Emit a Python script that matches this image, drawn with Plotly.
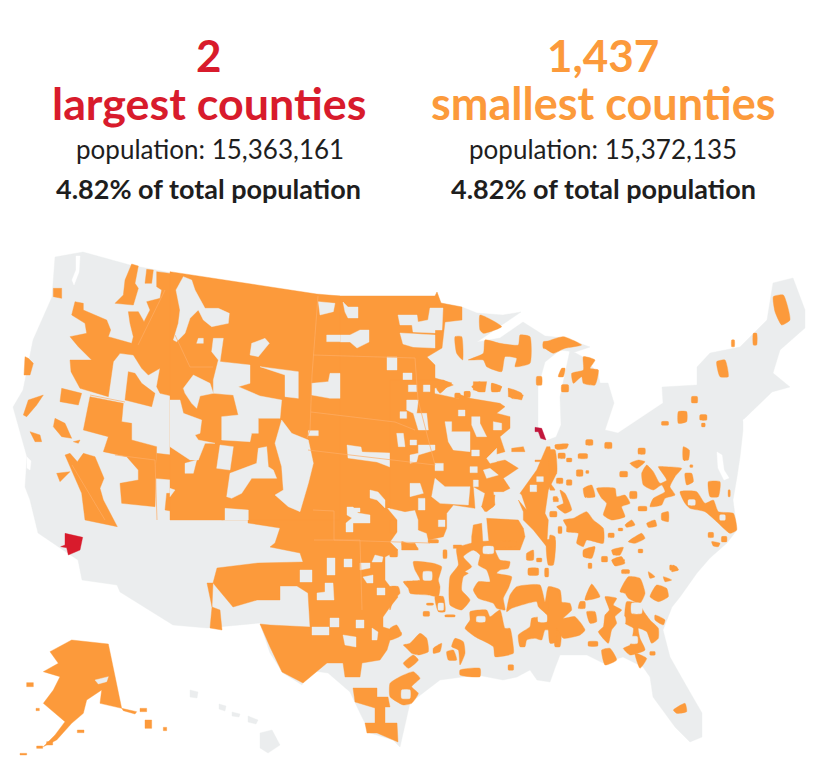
import plotly.graph_objects as go

GREY = "#EBEDEE"
ORANGE = "#FC9A3B"
RED = "#D81B2C"
CRIMSON = "#C2163C"
STATE_LINE = "#FDAE66"

# headline text
COUNT_LEFT, COUNT_RIGHT = "2", "1,437"
HEAD_LEFT, HEAD_RIGHT = "largest counties", "smallest counties"
POP_LEFT, POP_RIGHT = "population: 15,363,161", "population: 15,372,135"
SHARE_LEFT, SHARE_RIGHT = "4.82% of total population", "4.82% of total population"

# outlines, in picture pixels
LOWER48 = [(55,257),(80,253),(83,252),(130,265),(193,277),(280,290),(320,296),(435,296),(437,292),(441,303),
    (462,307),(477,313),(503,315),(521,312),(477,342),(500,338),(523,322),(545,336),(565,338),(590,347),
    (575,352),(560,350),(545,362),(538,387),(538,427),(545,441),(556,437),(561,425),(560,397),(570,350),
    (583,357),(598,373),(600,383),(608,383),(614,403),(605,430),(618,433),(663,403),(662,387),(697,385),
    (697,367),(710,353),(740,347),(767,320),(773,283),(793,278),(805,310),(805,328),(780,350),(773,373),
    (790,387),(772,392),(743,420),(743,430),(740,457),(737,477),(733,500),(737,530),(727,543),(710,558),
    (697,573),(680,597),(672,607),(663,630),(670,657),(687,687),(702,713),(702,737),(690,742),(675,727),
    (653,697),(650,677),(643,667),(623,657),(603,663),(587,655),(560,655),(555,668),(550,682),(537,680),
    (530,670),(517,677),(503,680),(477,675),(440,680),(410,703),(400,747),(393,740),(370,733),(360,713),
    (350,692),(328,673),(307,670),(302,685),(283,673),(270,653),(260,623),(207,628),(173,625),(120,592),
    (117,585),(82,580),(78,560),(63,550),(38,533),(30,500),(25,487),(27,457),(13,407),(23,390),(33,340),
    (52,297)]
HAWAII = [[(260,733),(272,730),(280,745),(268,753),(260,748)], [(190,690),(198,692),(197,698),(190,697)],
    [(219,704),(226,706),(225,711),(219,709)], [(232,712),(240,714),(239,717),(232,716)], [(248,716),(258,720),(256,724),(248,722)]]
# bays and sounds cut out of the land
WATER = [[(76,256),(80,256),(79,272),(74,285),(72,280),(76,270)], [(27,457),(31,461),(30,470),(27,468)],
    [(717,452),(722,455),(724,470),(729,478),(724,480),(718,468)], [(743,420),(770,409),(771,411),(745,424)]]

# main block of the plains, Montana round to Texas
PLAINS = [(193,277),(280,290),(320,296),(435,296),(437,292),(441,303),(462,307),(462,320),(445,322),(442,348),
    (427,357),(435,365),(435,378),(452,383),(440,392),(392,392),(392,508),(387,508),
    (397,520),(397,532),(390,542),(398,550),(385,557),(385,580),(398,597),(390,607),(383,617),(383,627),
    (402,633),(390,640),(387,650),(380,660),(362,663),(360,677),(345,677),(343,663),(327,663),(303,683),
    (282,672),(270,647),(260,624),(270,625),(310,627),(308,593),(297,586),(280,586),(280,600),(257,600),
    (233,607),(213,583),(217,568),(258,563),(303,562),(300,553),(270,547),(275,543),(280,528),(248,523),
    (248,510),(270,505),(287,512),(302,512),(303,502),(308,483),(313,463),(307,438),(290,430),(287,420),
    (282,418),(282,398),(270,395),(253,393),(240,387),(248,380),(250,367),(218,363),(223,350),(223,338),
    (217,340),(213,367),(188,367),(183,347),(187,323),(197,307),(203,303)]
SOUTH_TEXAS = [(353,688),(377,688),(377,697),(388,697),(390,707),(385,707),(385,723),(397,723),(398,742),(377,733),
    (367,733),(365,723),(375,723),(375,708),(355,702)]
NM_STRIP = [(207,583),(213,583),(212,607),(220,610),(222,630),(210,628),(212,607)]

# grey gaps punched back out of PLAINS, a pair of points is a box
PLAINS_GAPS = [[(343,302),(348,307),(358,307),(358,318),(348,318),(345,312)],
    [(340,335),(350,335),(360,330),(369,330),(369,342),(357,348),(350,342),(340,342)],
    [(398,315),(417,315),(418,322),(428,320),(430,308),(443,308),(442,330),(435,330),(435,333),(413,332),(412,325),(400,325)],
    [(400,333),(435,335),(435,348),(413,347),(403,344)], [(387,357),(397,370)], [(403,373),(412,380)],
    [(347,445),(361,447),(362,452),(390,453),(390,467),(377,462),(348,458)],
    [(370,490),(378,492),(385,500),(385,508),(377,500),(370,498)], [(348,508),(360,512)],
    [(347,507),(353,507),(358,513),(370,515),(370,523),(353,523),(353,532),(346,532),(346,523),(352,518),(347,515)],
    [(327,558),(335,575)], [(344,559),(352,567)], [(300,570),(312,582)],
    [(325,583),(333,583),(334,600),(317,600),(317,593),(325,592)], [(377,588),(385,595)], [(330,618),(339,627)],
    [(312,627),(329,635)], [(356,620),(364,628)], [(343,635),(356,637),(356,647),(345,645)], [(372,628),(378,632),(377,640),(372,640)],
    [(360,563),(370,563),(370,568),(360,570)], [(375,555),(383,557),(382,562),(372,562)], [(363,577),(373,575),(373,583),(367,583)]]

# the far west, coordinates read on the 3x crop starting at (0,240)
WEST = [[(470,95),(548,105),(530,180),(548,210),(525,225),(535,260),(520,305),(545,310),(560,385),(570,380),(640,378),(640,430),
        (580,410),(555,465),(545,475),(480,460),(470,440),(480,385),(445,405),(425,385),(400,345),(360,340),(340,365),(325,470),
        (240,445),(213,395),(210,360),(275,360),(235,320),(210,290),(260,280),(255,250),(215,225),(225,185),(250,190),(250,210),
        (320,240),(332,270),(325,290),(395,310),(400,290),(390,250),(385,215),(415,215),(432,245),(450,210),(440,185),(480,175),(485,150),(470,140)],
    [(395,72),(415,78),(405,130),(415,145),(400,195),(345,190),(370,165),(375,120)],
    [(440,88),(460,90),(455,130),(435,130)],
    [(185,445),(245,460),(235,495),(180,485)],
    [(385,395),(405,400),(425,430),(465,460),(455,500),(375,480)],
    [(270,470),(370,490),(365,545),(395,550),(395,600),(470,620),(465,800),(365,790),(360,730),(415,720),(415,690),(380,650),(310,635),(325,590),(250,570)],
    [(195,645),(210,640),(232,665),(250,640),(285,650),(312,715),(300,745),(310,780),(352,860),(255,840),(245,760),(215,690)],
    [(160,145),(185,145),(185,175),(160,170)], [(75,350),(85,355),(100,370),(90,405),(72,405)],
    [(70,525),(85,480),(130,465),(110,495),(80,530)], [(165,535),(195,550),(215,595),(185,590),(160,560)],
    [(90,575),(120,585),(125,605),(105,605)], [(220,605),(240,600),(235,610)], [(170,700),(210,695),(180,725)],
    [(470,640),(560,650),(575,700),(500,810),(530,720),(465,715)], [(500,760),(660,760),(670,840),(495,810)]]

# mountain states, 3x crop from (170,270): a solid block with the gaps laid over it
ROCKIES = [(0,5),(440,72),(510,78),(510,750),(0,750)]
ROCKIES_GAPS = [[(40,20),(65,30),(75,60),(95,95),(105,115),(145,115),(178,130),(175,160),(125,170),(100,150),(85,120),(60,145),(45,190),(20,215),(10,210),(25,160),(30,120),(18,60)],
    [(85,205),(100,205),(100,220),(80,220)], [(245,220),(285,205),(298,220),(265,260),(240,255)],
    [(130,205),(160,205),(150,275),(240,285),(240,340),(205,350),(270,378),(335,390),(330,445),(265,445),(265,490),(245,490),(240,515),(155,510),(155,440),(205,435),(190,375),(130,370),(130,330),(145,270),(125,245)],
    [(270,290),(385,305),(385,385),(345,380),(345,315)], [(70,315),(120,340),(130,370),(90,378),(80,415),(65,400),(45,370),(40,355)],
    [(445,95),(495,100),(490,125),(450,135)], [(470,195),(510,215)], [(415,482),(445,497)],
    [(425,340),(475,335),(480,310),(510,310),(510,385),(480,385),(425,375)],
    [(0,390),(30,390),(40,430),(95,450),(90,490),(75,495),(85,510),(135,520),(105,520),(85,570),(60,570),(0,530)],
    [(150,525),(190,530),(180,600),(140,595)],
    [(265,535),(290,530),(295,590),(310,600),(320,625),(245,625),(215,670),(185,685),(170,680),(180,610),(260,580)],
    [(335,450),(365,490),(415,510),(430,580),(415,640),(390,725),(355,710),(315,675),(340,660),(335,590),(315,520)],
    [(45,580),(80,570),(70,610),(45,610)], [(0,655),(15,660),(0,680)], [(165,715),(235,720),(235,750),(165,750)]]

# corn belt, 3x crop from (390,380)
CORN_BELT = [(0,0),(160,0),(190,15),(150,30),(200,40),(240,55),(330,70),(345,80),(320,100),(360,110),(360,145),(330,170),(345,215),(310,225),(320,245),
    (345,240),(385,265),(340,295),(360,325),(340,335),(310,335),(315,375),(290,395),(275,380),(285,340),(250,320),(255,385),(190,375),(170,400),
    (170,445),(160,470),(115,480),(110,460),(85,450),(85,420),(75,390),(45,395),(0,385)]
CORN_BELT_GAPS = [[(55,15),(80,35)], [(100,15),(120,35)], [(135,25),(195,25),(205,55),(135,40)],
    [(50,60),(85,60),(80,100),(110,100),(115,150),(85,150),(70,100),(50,90)], [(30,95),(50,115)], [(205,90),(225,108)],
    [(165,125),(185,125),(185,155),(240,155),(240,215),(190,210),(175,185)], [(245,110),(270,110),(270,130),(290,170),(260,170),(245,135)],
    [(310,125),(335,130),(335,150),(310,150)], [(20,160),(40,160),(45,200),(25,200)], [(60,180),(80,195)],
    [(85,195),(135,195),(135,210),(85,225),(80,245),(60,250),(60,225),(85,220)], [(245,210),(268,228)], [(290,235),(320,205),(320,245),(300,250)],
    [(135,250),(160,272)], [(240,260),(262,278)], [(60,310),(90,310),(100,340),(60,350)],
    [(135,295),(165,320),(240,320),(235,375),(150,370),(125,350)], [(250,300),(265,320)], [(85,355),(105,390)], [(280,270),(300,265),(325,285),(290,295)],
    [(145,420),(165,440)]]
CORN_BELT_BLOBS = [[(0,420),(18,460)], [(250,5),(290,5),(285,35),(250,30)], [(305,10),(335,20),(330,35),(305,30)],
    [(355,25),(375,40),(400,45),(395,60),(355,50)], [(222,35),(240,52)], [(365,205),(400,200),(405,215),(365,215)], [(435,240),(455,245)],
    [(390,340),(440,270),(470,200),(480,200),(490,270),(500,280),(475,330),(465,400),(475,420),(470,500),(430,450),(400,420),(400,395),(385,360),(410,390),(395,345)],
    [(495,195),(510,205)], [(490,355),(505,365)], [(295,350),(315,345),(310,380),(285,395),(275,380)],
    [(290,415),(385,420),(400,445),(405,470),(390,510),(300,510),(295,470)], [(250,435),(275,430),(280,510),(245,510),(245,470)],
    [(35,490),(75,490),(85,510),(35,510)], [(190,495),(215,505)]]
CORN_BELT_BLOB_GAPS = [[(440,290),(460,305)], [(420,315),(440,335)]]

# lower mississippi and east texas, 3x crop from (390,540)
DELTA = [[(200,25),(265,5),(380,5),(375,20),(315,25),(330,60),(360,65),(355,85),(330,90),(320,100),(365,110),(355,145),(340,175),(345,210),(320,205),(310,190),
        (265,175),(250,150),(265,125),(300,125),(290,90),(265,75),(270,45),(250,30),(220,50),(245,80),(225,95),(235,100),(220,110),(215,150),(240,180),(215,210),(180,195),(180,110),(205,75)],
    [(380,140),(450,135),(465,185),(475,140),(510,150),(510,320),(495,320),(490,275),(465,270),(455,300),(435,295),(410,300),(405,320),(390,320),(385,285),(420,260),(425,235),(450,230),(470,225),(445,200),(440,185),(365,205),(350,215),(360,165)],
    [(240,215),(290,210),(300,230),(330,210),(345,265),(360,265),(370,320),(370,340),(315,350),(310,320),(255,290),(225,265),(240,240)],
    [(195,295),(220,305),(225,340),(210,375),(205,330),(185,320)], [(170,335),(190,330),(200,360),(175,360)], [(130,325),(155,310),(150,335),(130,340)],
    [(40,315),(60,310),(90,280),(110,295),(115,335),(85,345),(65,340),(50,325)], [(40,370),(70,345),(85,360),(55,385)], [(0,265),(20,255),(35,285),(0,300)],
    [(210,390),(270,385),(270,410),(210,405)], [(355,375),(370,390)],
    [(0,430),(30,410),(70,395),(90,415),(65,440),(85,460),(65,490),(40,495),(0,470)],
    [(70,65),(130,70),(155,80),(145,120),(150,140),(145,170),(115,165),(60,160),(55,145),(40,125),(90,120),(75,90)],
    [(135,170),(160,170),(165,215),(145,215)], [(165,225),(195,230)], [(110,190),(130,195)], [(100,215),(118,228)],
    [(0,140),(25,140),(30,160),(10,180),(0,210)], [(0,30),(22,50)], [(35,5),(85,25),(40,25)], [(160,30),(170,55)], [(115,0),(145,8)],
    [(410,40),(430,30),(430,60),(410,60)], [(415,85),(445,105)], [(465,85),(475,110)], [(470,0),(495,0),(490,75),(475,75)], [(440,55),(455,65)]]
DELTA_GAPS = [[(280,20),(310,40)], [(445,225),(470,245)], [(260,230),(285,245)], [(100,95),(125,120)], [(145,190),(160,210)], [(35,450),(60,475)]]

# appalachia up to the carolinas, 3x crop from (550,440)
APPALACHIA = [[(15,15),(55,12),(50,25),(20,28)], [(108,0),(128,15)], [(165,8),(185,25)], [(25,40),(45,55)], [(50,55),(65,65)], [(85,42),(112,55)],
    [(80,90),(98,108)], [(108,92),(116,100)], [(0,30),(15,30),(20,100),(0,105)], [(0,130),(15,150),(0,150)], [(20,115),(38,130)], [(50,120),(65,135)],
    [(265,25),(285,42)], [(400,20),(418,30),(415,60),(400,60)], [(420,75),(428,82)], [(240,70),(265,60),(285,65),(260,85)], [(210,95),(232,110)],
    [(275,100),(290,75),(310,95),(330,130),(350,120),(325,80),(345,80),(395,85),(375,110),(360,140),(375,165),(345,175),(335,195),(300,200),(310,175),(345,155),(335,135),(310,150),(280,135)],
    [(405,100),(425,100),(430,125),(410,135)], [(475,125),(510,125),(505,170),(480,170)],
    [(390,155),(440,155),(465,190),(490,180),(505,215),(550,220),(560,270),(540,280),(500,245),(465,215),(420,205),(405,190)],
    [(475,278),(490,292)], [(515,290),(530,305)], [(485,305),(510,310),(505,320),(490,318)], [(535,150),(540,170)], [(240,155),(260,175)],
    [(100,145),(125,135),(135,170),(105,172)], [(140,145),(195,145),(200,170),(225,165),(240,190),(215,200),(225,230),(185,240),(160,225),(170,190),(155,175)],
    [(265,200),(290,212)], [(335,220),(355,215),(355,245),(335,240)], [(225,255),(245,240),(255,255),(230,262)], [(290,250),(315,240),(320,258),(295,262)],
    [(205,265),(218,272)], [(235,305),(275,280),(285,295),(255,310)], [(185,330),(220,322),(210,345),(190,345)], [(265,328),(278,338)],
    [(185,360),(215,350),(225,370),(195,378)], [(155,350),(172,365)], [(360,375),(380,380),(385,390),(360,390)], [(100,330),(135,320),(125,355),(100,350)],
    [(175,280),(192,292)], [(40,240),(70,235),(110,215),(130,240),(160,265),(160,310),(110,300),(100,320),(80,310),(85,280),(50,275),(50,260)],
    [(30,150),(45,160),(65,210),(45,220),(20,200),(40,190)], [(10,170),(22,180)], [(0,215),(20,230)], [(25,260),(35,280)], [(0,285),(15,290),(10,360),(0,360)]]
APPALACHIA_GAPS = [[(415,180),(435,195)], [(510,225),(525,240)]]

# alabama and georgia, 3x crop from (550,560)
DEEP_SOUTH = [[(0,85),(25,95),(30,125),(60,130),(65,150),(40,175),(75,170),(105,210),(90,225),(40,235),(20,205),(20,245),(0,250)],
    [(90,125),(105,125),(105,145),(85,145)], [(125,72),(150,110),(105,120)], [(110,155),(135,155),(140,185),(120,190)],
    [(165,110),(200,115),(190,135),(215,150),(195,170),(200,190),(185,210),(175,250),(145,215),(160,200),(165,165),(178,150)],
    [(210,95),(235,50),(270,55),(285,100),(270,130),(235,115),(225,100)],
    [(230,125),(265,130),(285,160),(300,180),(325,205),(325,235),(305,250),(290,215),(265,205),(270,235),(285,270),(240,285),(220,265),(240,255),(250,205),(225,190),(225,150)],
    [(300,110),(320,75),(350,85),(355,110),(325,125)], [(315,165),(345,180),(340,195),(315,180)], [(115,245),(143,258)],
    [(155,270),(180,265),(200,300),(165,315)], [(255,280),(290,295),(270,325)], [(300,275),(315,285)], [(370,15),(385,30),(365,35)],
    [(340,50),(365,60),(345,65)], [(295,35),(315,50),(300,55)], [(215,30),(238,40)], [(190,0),(225,0),(195,15)], [(115,10),(125,25)]]
DEEP_SOUTH_GAPS = [[(245,130),(275,160)], [(240,230),(262,250)], [(205,170),(225,190)]]
FLORIDA = [(400,630),(435,610),(440,635),(410,640)]

# great lakes and north east, 3x crop from (540,270)
NORTHEAST = [[(10,220),(70,200),(125,225),(75,235),(40,250),(10,230)],
    [(95,310),(130,300),(130,260),(165,270),(150,295),(175,300),(165,345),(130,340),(125,320),(100,340)],
    [(65,295),(75,295),(70,320),(55,320)], [(65,345),(85,365)], [(700,80),(730,75),(750,150),(725,165),(705,125)],
    [(640,190),(650,225)], [(575,210),(583,230)], [(530,275),(555,270),(565,320),(540,320)], [(455,380),(472,398)],
    [(415,425),(440,425),(440,455),(415,460)], [(365,455),(385,465)], [(480,435),(500,450)], [(485,460),(495,470)]]

# upper midwest, 3x crop from (270,270)
MIDWEST = [[(630,135),(695,170),(640,190),(630,180)], [(555,200),(575,200),(578,270),(560,250)],
    [(595,270),(640,250),(645,210),(690,220),(745,225),(750,195),(780,200),(780,280),(735,290),(740,265),(705,260),(695,305),(650,290),(640,270)],
    [(820,215),(840,235)], [(800,320),(815,345)], [(500,355),(540,340),(510,370)], [(605,350),(630,335),(645,365),(625,365)],
    [(665,340),(695,350),(685,365),(665,365)], [(715,355),(755,370),(755,385),(725,385)], [(555,370),(570,385)], [(585,365),(600,380)]]

# Alaska, crop from (0,500)
ALASKA = [[(150,455),(215,420),(325,432),(365,625),(300,610),(305,570),(260,600),(250,640),(215,670),(170,720),(130,740),(165,705),(195,665),
        (130,610),(160,570),(180,530),(130,515),(175,490)],
    [(365,625),(410,635),(405,642),(370,632)], [(420,625),(440,635)], [(435,660),(455,685)], [(490,682),(500,692)], [(80,548),(100,560)],
    [(108,625),(118,632)], [(232,690),(252,698)], [(140,725),(158,735)], [(110,738),(128,745)], [(60,760),(80,765)]]
ALASKA_GAPS = [[(285,540),(325,530),(320,545),(295,552)]]

LOS_ANGELES = [(195,100),(248,112),(240,150),(205,165),(200,143),(182,140),(195,135)]
COOK = [(795,472),(815,475),(828,510),(812,505),(805,485),(795,485)]

# pale state borders that show through the orange, picture pixels
STATE_BORDERS = [[(318,296),(312,375),(310,430),(307,438)], [(313,355),(415,358)], [(311,412),(395,422),(415,430)],
    [(308,450),(435,465)], [(313,510),(334,511),(334,540),(430,543)], [(314,540),(360,540),(362,610)],
    [(175,335),(190,367)], [(138,345),(165,290)], [(90,395),(125,402)], [(190,367),(213,367)],
    [(115,455),(155,460),(157,520)], [(72,465),(105,520)], [(415,358),(418,400),(435,465)]]


def pts(poly):
    # two points mean an axis aligned box
    if len(poly) == 2:
        (a, b), (c, d) = poly
        return [(a, b), (c, b), (c, d), (a, d)]
    return poly


def from_crop(polys, left, top):
    return [[(left + x / 3, top + y / 3) for x, y in pts(p)] for p in polys]


fig = go.Figure()


def add_poly(poly, color, soft=False):
    xs = [p[0] for p in pts(poly)]
    ys = [p[1] for p in pts(poly)]
    line = dict(width=0.4, color=color)
    if soft:
        # the small eastern counties read as rounded blobs in the original
        line.update(shape="spline", smoothing=0.5)
    fig.add_trace(go.Scatter(x=xs + xs[:1], y=ys + ys[:1], mode="lines", fill="toself", fillcolor=color,
                             line=line, hoverinfo="skip", showlegend=False))


def add_layer(polys, color, soft=False):
    for p in polys:
        add_poly(p, color, soft)


add_layer([LOWER48] + HAWAII, GREY)
add_layer(WATER, "#FFFFFF")

add_layer([PLAINS, SOUTH_TEXAS, NM_STRIP] + from_crop(WEST, 0, 240), ORANGE)
add_layer(PLAINS_GAPS, GREY)
add_layer(from_crop([ROCKIES], 170, 270), ORANGE)
add_layer(from_crop(ROCKIES_GAPS, 170, 270), GREY)
add_layer(from_crop([CORN_BELT], 390, 380), ORANGE)
add_layer(from_crop(CORN_BELT_GAPS, 390, 380), GREY)
add_layer(from_crop(CORN_BELT_BLOBS, 390, 380), ORANGE)
add_layer(from_crop(CORN_BELT_BLOB_GAPS, 390, 380), GREY)
add_layer(from_crop(DELTA, 390, 540), ORANGE, soft=True)
add_layer(from_crop(DELTA_GAPS, 390, 540), GREY, soft=True)
add_layer(from_crop(APPALACHIA, 550, 440), ORANGE, soft=True)
add_layer(from_crop(APPALACHIA_GAPS, 550, 440), GREY, soft=True)
add_layer(from_crop(DEEP_SOUTH, 550, 560), ORANGE, soft=True)
add_layer(from_crop(DEEP_SOUTH_GAPS, 550, 560), GREY, soft=True)
add_layer(from_crop([FLORIDA], 540, 500), ORANGE, soft=True)
add_layer(from_crop(NORTHEAST, 540, 270) + from_crop(MIDWEST, 270, 270), ORANGE, soft=True)
add_layer(from_crop(ALASKA, 0, 500), ORANGE)
add_layer(from_crop(ALASKA_GAPS, 0, 500), GREY)

for line in STATE_BORDERS:
    fig.add_trace(go.Scatter(x=[p[0] for p in line], y=[p[1] for p in line], mode="lines",
                             line=dict(width=0.7, color=STATE_LINE), hoverinfo="skip", showlegend=False))

add_poly(from_crop([LOS_ANGELES], 0, 500)[0], RED)
add_poly(from_crop([COOK], 270, 270)[0], CRIMSON)

HEAD_FONT = "Lato"
texts = [
    (209, 55, COUNT_LEFT, 44, RED, True), (209, 103, HEAD_LEFT, 44.8, RED, True),
    (210, 149, POP_LEFT, 26, "#1E1E1E", False), (208, 188, SHARE_LEFT, 27, "#1E1E1E", True),
    (603, 55, COUNT_RIGHT, 44, ORANGE, True), (603, 103, HEAD_RIGHT, 45, ORANGE, True),
    (603, 149, POP_RIGHT, 26, "#1E1E1E", False), (603, 188, SHARE_RIGHT, 27, "#1E1E1E", True),
]
for x, y, text, size, color, bold in texts:
    fig.add_annotation(x=x, y=y, text=f"<b>{text}</b>" if bold else text, showarrow=False,
                       font=dict(family=HEAD_FONT, size=size, color=color), xanchor="center", yanchor="middle")

fig.update_layout(
    width=820, height=780,
    margin=dict(l=0, r=0, t=0, b=0),
    paper_bgcolor="#FFFFFF", plot_bgcolor="#FFFFFF",
    showlegend=False,
    xaxis=dict(range=[8, 828], visible=False, fixedrange=True),
    yaxis=dict(range=[788, 8], visible=False, fixedrange=True),
)

fig.write_html("out.html")
